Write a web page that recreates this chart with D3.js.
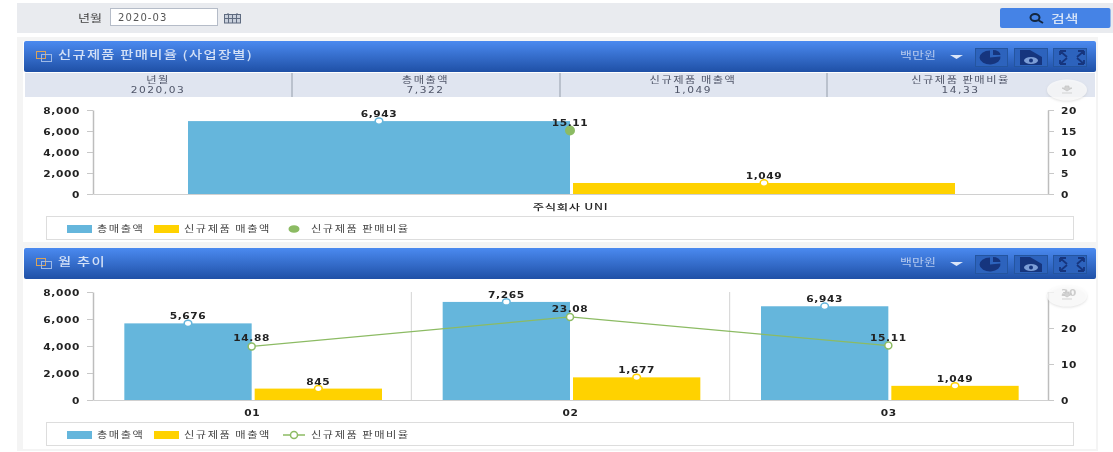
<!DOCTYPE html>
<html>
<head>
<meta charset="utf-8">
<script src="https://cdn.jsdelivr.net/npm/d3@7"></script>
<style>
  html, body { margin: 0; padding: 0; background: #fff; overflow: hidden; }
  svg { display: block; filter: blur(0.4px); }
  text { font-family: "Noto Sans CJK KR", "DejaVu Sans", sans-serif; }
  .num, .axis-label { font-family: "DejaVu Sans", sans-serif; font-weight: bold; font-size: 8.5px; fill: #222; letter-spacing: 0.5px; }
  .legend-text { font-size: 9px; fill: #444; letter-spacing: 1.2px; }
  .summary { font-size: 9px; fill: #4f5568; letter-spacing: 1.2px; }
</style>
</head>
<body>
<div id="chart"></div>
<script>
const seriesNames = ['총매출액', '신규제품 매출액', '신규제품 판매비율'];

const siteCats = ['주식회사 UNI'];
const siteTotal = [6943];
const siteNew = [1049];
const siteRatio = [15.11];

const monthCats = ['01', '02', '03'];
const monthTotal = [5676, 7265, 6943];
const monthNew = [845, 1677, 1049];
const monthRatio = [14.88, 23.08, 15.11];

const leftTicks = [0, 2000, 4000, 6000, 8000];
const siteRightTicks = [0, 5, 10, 15, 20];
const monthRightTicks = [0, 10, 20, 30];

const summaryHeads = ['년월', '총매출액', '신규제품 매출액', '신규제품 판매비율'];
const summaryValues = ['2020,03', '7,322', '1,049', '14,33'];

const blue = '#65b6dc';
const yellow = '#ffd200';
const green = '#8cbb63';

const width = 1113;
const height = 452;
const axisLeft = 93;
const axisRight = 1048;
const textStretch = 1.25;

const svg = d3.select('#chart').append('svg')
  .attr('width', width)
  .attr('height', height)
  .attr('viewBox', `0 0 ${width} ${height}`);

const defs = svg.append('defs');
const grad = defs.append('linearGradient').attr('id', 'head').attr('x1', 0).attr('y1', 0).attr('x2', 0).attr('y2', 1);
grad.append('stop').attr('offset', '0%').attr('stop-color', '#4b8af0');
grad.append('stop').attr('offset', '100%').attr('stop-color', '#1f50a6');
const shadow = defs.append('filter').attr('id', 'soft').attr('x', '-30%').attr('y', '-40%').attr('width', '160%').attr('height', '190%');
shadow.append('feDropShadow').attr('dx', 0).attr('dy', 1).attr('stdDeviation', 1.2).attr('flood-color', '#aaa').attr('flood-opacity', 0.5);

// the reference text is wider than any installed face, so squash it sideways
function stretch(sel, sx = textStretch) {
  sel.each(function() {
    const t = d3.select(this);
    const x = +t.attr('x') || 0;
    const y = +t.attr('y') || 0;
    t.attr('x', 0).attr('y', 0).attr('transform', `translate(${x},${y}) scale(${sx},1)`);
  });
  return sel;
}

// search bar
svg.append('rect').attr('x', 17).attr('y', 3).attr('width', 1096).attr('height', 30).attr('fill', '#e9ebef');
svg.append('text').attr('x', 78).attr('y', 22).attr('font-size', 10.5).attr('fill', '#444').call(stretch).text('년월');
svg.append('rect').attr('x', 110.5).attr('y', 8.5).attr('width', 107).attr('height', 17).attr('fill', '#fff').attr('stroke', '#b5bcc8');
svg.append('text').attr('x', 118).attr('y', 21).attr('font-size', 10).attr('letter-spacing', 1.1).attr('fill', '#555').style('font-family', 'DejaVu Sans').text('2020-03');

// calendar icon
const cal = svg.append('g').attr('transform', 'translate(224,13)').attr('stroke', '#5f6b80').attr('fill', 'none');
cal.append('rect').attr('x', 0.5).attr('y', 1.5).attr('width', 16).attr('height', 8.5).attr('fill', '#c9d0dc');
d3.range(1, 4).forEach(i => {
  cal.append('path').attr('d', `M${i * 4 + 0.5} 1V10`);
});
cal.append('path').attr('d', 'M1 5.5H16M4 0V2M13 0V2');

// search button
svg.append('rect').attr('x', 1000).attr('y', 8).attr('width', 110.5).attr('height', 20).attr('rx', 2).attr('fill', '#4583e6');
svg.append('ellipse').attr('cx', 1035).attr('cy', 17.5).attr('rx', 4.5).attr('ry', 3.5).attr('fill', 'none').attr('stroke', '#13263f').attr('stroke-width', 2);
svg.append('path').attr('d', 'M1038 20L1043 23').attr('stroke', '#13263f').attr('stroke-width', 2);
svg.append('text').attr('x', 1051).attr('y', 23).attr('font-size', 11.5).attr('font-weight', 500).attr('fill', '#d4e2f7').call(stretch, 1.3).text('검색');

function panelFrame(y, h) {
  svg.append('rect').attr('x', 17).attr('y', y).attr('width', 1081).attr('height', h).attr('fill', '#f4f4f4');
  svg.append('rect').attr('x', 23).attr('y', y + 4).attr('width', 1073).attr('height', h - 6).attr('fill', '#fff');
}

function panelHeader(y, title) {
  svg.append('rect').attr('x', 24).attr('y', y).attr('width', 1072).attr('height', 31).attr('rx', 2).attr('fill', 'url(#head)');
  // title icon
  svg.append('rect').attr('x', 36.5).attr('y', y + 10.5).attr('width', 9).attr('height', 7).attr('fill', 'none').attr('stroke', '#d9a35a');
  svg.append('rect').attr('x', 41.5).attr('y', y + 13.5).attr('width', 10).attr('height', 7).attr('fill', 'none').attr('stroke', '#9db9e6');
  svg.append('text').attr('x', 58).attr('y', y + 18).attr('font-size', 11).attr('font-weight', 500).attr('letter-spacing', 1).attr('fill', '#d3e0f6').call(stretch, 1.3).text(title);
  svg.append('text').attr('x', 900).attr('y', y + 18).attr('font-size', 10).attr('fill', '#b3c8ee').call(stretch, 1.3).text('백만원');
  svg.append('path').attr('d', `M950 ${y + 14}h13l-6.5 4z`).attr('fill', '#dbe6f8');
  // toolbar buttons
  [[975, 32], [1014, 33], [1053, 33]].forEach(([bx, bw]) => {
    svg.append('rect').attr('x', bx + 0.5).attr('y', y + 7.5).attr('width', bw).attr('height', 18)
      .attr('fill', '#2d63bd').attr('stroke', '#24559f');
  });
  const dark = '#16357e';
  const arc = d3.arc().innerRadius(0).outerRadius(7);
  svg.append('path').attr('transform', `translate(990,${y + 16.5}) scale(1.5,1)`)
    .attr('d', arc({ startAngle: Math.PI / 2.2, endAngle: Math.PI * 2 })).attr('fill', dark);
  svg.append('path').attr('transform', `translate(993,${y + 14}) scale(1.5,1)`)
    .attr('d', d3.arc().innerRadius(0).outerRadius(5)({ startAngle: 0, endAngle: Math.PI / 2 })).attr('fill', dark);
  svg.append('path').attr('d', `M1020 ${y + 9}h10l12 7v8h-22z`).attr('fill', dark);
  svg.append('ellipse').attr('cx', 1031).attr('cy', y + 19.5).attr('rx', 7).attr('ry', 3.5).attr('fill', '#7c9dd6');
  svg.append('circle').attr('cx', 1031).attr('cy', y + 19.5).attr('r', 2).attr('fill', dark);
  svg.append('path').attr('d', `M1060 ${y + 10}h6m-6 0v4m0-4l7 6M1084 ${y + 10}h-6m6 0v4m0-4l-7 6M1060 ${y + 23}h6m-6 0v-4m0 4l7-6M1084 ${y + 23}h-6m6 0v-4m0 4l-7-6`)
    .attr('fill', 'none').attr('stroke', dark).attr('stroke-width', 1.8);
}

function summaryRow(y) {
  const edges = [25, 292, 560, 827, 1095];
  svg.append('rect').attr('x', 25).attr('y', y).attr('width', 1070).attr('height', 24).attr('fill', '#e0e5f0');
  summaryHeads.forEach((head, i) => {
    const cx = (edges[i] + edges[i + 1]) / 2 - 0.5;
    svg.append('text').attr('class', 'summary').attr('x', cx).attr('y', y + 10).attr('text-anchor', 'middle').call(stretch).text(head);
    svg.append('text').attr('class', 'summary').attr('x', cx).attr('y', y + 19.5).attr('text-anchor', 'middle')
      .style('font-family', 'DejaVu Sans').style('font-size', '8.5px').call(stretch).text(summaryValues[i]);
    if (i > 0) {
      svg.append('path').attr('d', `M${edges[i]} ${y}V${y + 24}`).attr('stroke', '#aeb4c2').attr('stroke-width', 1.5);
    }
  });
}

function exportButton(cy) {
  svg.append('ellipse').attr('cx', 1067).attr('cy', cy).attr('rx', 20).attr('ry', 10.5)
    .attr('fill', '#fff').attr('fill-opacity', 0.7).attr('filter', 'url(#soft)');
  svg.append('path').attr('d', `M1065 ${cy - 4}h4v2h3l-5 3l-5-3h3zM1062 ${cy + 3}h10`)
    .attr('fill', '#d2d2d2').attr('stroke', '#c4c4c4').attr('stroke-width', 0.7);
}

function legend(y, lineMode) {
  svg.append('rect').attr('x', 46.5).attr('y', y + 0.5).attr('width', 1027).attr('height', 23).attr('fill', '#fff').attr('stroke', '#ddd');
  const my = y + 13;
  svg.append('rect').attr('x', 67).attr('y', my - 4).attr('width', 25).attr('height', 8).attr('fill', blue);
  svg.append('text').attr('class', 'legend-text').attr('x', 97).attr('y', my + 3).call(stretch).text(seriesNames[0]);
  svg.append('rect').attr('x', 154).attr('y', my - 4).attr('width', 25).attr('height', 8).attr('fill', yellow);
  svg.append('text').attr('class', 'legend-text').attr('x', 184).attr('y', my + 3).call(stretch).text(seriesNames[1]);
  if (lineMode) {
    svg.append('path').attr('d', `M283 ${my}H305`).attr('stroke', green).attr('stroke-width', 1.5);
    svg.append('circle').attr('cx', 294).attr('cy', my).attr('r', 3.5).attr('fill', '#fff').attr('stroke', green).attr('stroke-width', 1.5);
  } else {
    svg.append('ellipse').attr('cx', 294).attr('cy', my).attr('rx', 5.5).attr('ry', 3.8).attr('fill', green);
  }
  svg.append('text').attr('class', 'legend-text').attr('x', 311).attr('y', my + 3).call(stretch).text(seriesNames[2]);
}

function combo(opts) {
  const { top, bottom, cats, total, newSales, ratio, rightMax, rightTicks, showLine, catPad, catStretch } = opts;
  const y = d3.scaleLinear().domain([0, 8000]).range([bottom, top]);
  const yRight = d3.scaleLinear().domain([0, rightMax]).range([bottom, top]);
  const x0 = d3.scaleBand().domain(cats).range([axisLeft, axisRight]);
  const x1 = d3.scaleBand().domain([0, 1]).range([x0.bandwidth() * 0.1, x0.bandwidth() * 0.9]);
  const g = svg.append('g');

  // axes
  const axL = g.append('g').attr('transform', `translate(${axisLeft},0)`)
    .call(d3.axisLeft(y).tickValues(leftTicks).tickFormat(d3.format(',')).tickSize(6).tickPadding(7).tickSizeOuter(0));
  const axR = g.append('g').attr('transform', `translate(${axisRight},0)`)
    .call(d3.axisRight(yRight).tickValues(rightTicks).tickSize(6).tickPadding(7).tickSizeOuter(0));
  const axB = g.append('g').attr('transform', `translate(0,${bottom})`)
    .call(d3.axisBottom(x0).tickSize(0).tickPadding(catPad));
  [axL, axR].forEach(a => {
    a.select('.domain').attr('stroke', '#bdbdbd').attr('stroke-width', 1.5);
    a.selectAll('.tick line').attr('stroke', '#c8c8c8');
    a.selectAll('.tick text').attr('class', 'axis-label').attr('fill', null).attr('dy', '0.42em').call(stretch);
  });
  axB.select('.domain').attr('stroke', '#d0d0d0');
  axB.selectAll('.tick text').attr('class', 'axis-label').attr('fill', null).attr('dy', '0.1em').call(stretch, catStretch);
  if (cats.length === 1) {
    axB.selectAll('.tick text').style('font-family', '"Noto Sans CJK KR"').style('font-weight', 500);
  }

  // category separators
  g.selectAll('.sep').data(cats.slice(1)).enter().append('line')
    .attr('x1', d => x0(d)).attr('x2', d => x0(d)).attr('y1', top).attr('y2', bottom)
    .attr('stroke', '#d4d4d4');

  const barW = x1.bandwidth();
  const bars = [total, newSales];
  const colors = [blue, yellow];
  bars.forEach((values, s) => {
    const bx = (d, i) => x0(cats[i]) + x1(s) + (s === 0 ? -0.5 : 2.5);
    g.selectAll(`.bar${s}`).data(values).enter().append('rect')
      .attr('class', `bar${s}`)
      .attr('x', bx)
      .attr('y', d => y(d))
      .attr('width', barW)
      .attr('height', d => bottom - y(d))
      .attr('fill', colors[s]);
    g.selectAll(`.dot${s}`).data(values).enter().append('ellipse')
      .attr('cx', (d, i) => bx(d, i) + barW / 2)
      .attr('cy', d => y(d))
      .attr('rx', 3.8)
      .attr('ry', 3.2)
      .attr('fill', '#fff')
      .attr('stroke', colors[s])
      .attr('stroke-width', 1.5);
    g.selectAll(`.lab${s}`).data(values).enter().append('text')
      .attr('class', 'num')
      .attr('x', (d, i) => bx(d, i) + barW / 2)
      .attr('y', d => y(d) - 4)
      .attr('text-anchor', 'middle')
      .text(d3.format(','))
      .call(stretch);
  });

  const cx = (d, i) => x0(cats[i]) + x0.bandwidth() / 2 - 0.5;
  if (showLine) {
    const line = d3.line().x(cx).y(d => yRight(d));
    g.append('path').datum(ratio).attr('d', line).attr('fill', 'none').attr('stroke', green).attr('stroke-width', 1.3);
  }
  g.selectAll('.ratio').data(ratio).enter().append('circle')
    .attr('cx', cx)
    .attr('cy', d => yRight(d))
    .attr('r', showLine ? 3.5 : 5)
    .attr('fill', showLine ? '#fff' : green)
    .attr('stroke', showLine ? green : 'none')
    .attr('stroke-width', 1.5);
  g.selectAll('.ratioLab').data(ratio).enter().append('text')
    .attr('class', 'num')
    .attr('x', cx)
    .attr('y', d => yRight(d) - 5)
    .attr('text-anchor', 'middle')
    .text(d => d.toFixed(2))
    .call(stretch);
}

panelFrame(37, 207);
panelFrame(244, 207);
panelHeader(41, '신규제품 판매비율 (사업장별)');
summaryRow(73);
combo({
  top: 110, bottom: 194, cats: siteCats, total: siteTotal, newSales: siteNew, ratio: siteRatio,
  rightMax: 20, rightTicks: siteRightTicks, showLine: false, catPad: 15, catStretch: 1.45
});
exportButton(90);
legend(216, false);

panelHeader(248, '월 추이');
combo({
  top: 292, bottom: 400, cats: monthCats, total: monthTotal, newSales: monthNew, ratio: monthRatio,
  rightMax: 30, rightTicks: monthRightTicks, showLine: true, catPad: 15, catStretch: 1.25
});
exportButton(296);
legend(422, true);
</script>
</body>
</html>
